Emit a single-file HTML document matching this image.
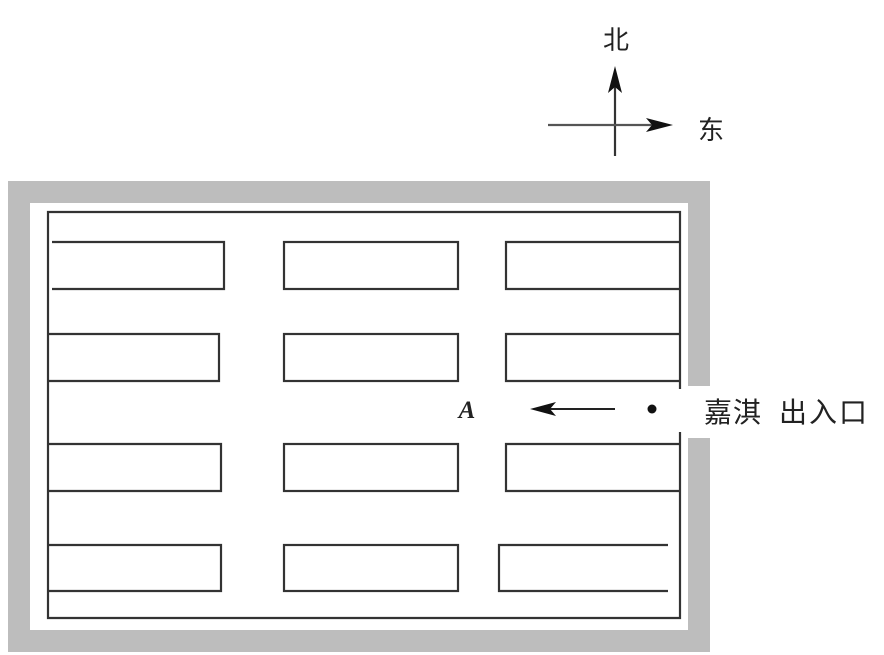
<!DOCTYPE html>
<html><head><meta charset="utf-8"><style>
html,body{margin:0;padding:0;background:#fff;}
svg{display:block;}
</style></head><body>
<svg width="884" height="655" viewBox="0 0 884 655" xmlns="http://www.w3.org/2000/svg">
<path d="M699,387 V192 H19 V641 H699 V437" fill="none" stroke="#bdbdbd" stroke-width="22"/>
<rect x="688" y="386" width="30" height="52" fill="#fff"/>
<g stroke="#333" stroke-width="2.2" fill="none">
<path d="M680,389 V212 H48 V618 H680 V432"/>
<path d="M52,242 H224 V289 H52"/>
<rect x="284" y="242" width="174" height="47"/>
<path d="M679,242 H506 V289 H679"/>
<path d="M48,334 H219 V381 H48"/>
<rect x="284" y="334" width="174" height="47"/>
<path d="M679,334 H506 V381 H679"/>
<path d="M48,444 H221 V491 H48"/>
<rect x="284" y="444" width="174" height="47"/>
<path d="M679,444 H506 V491 H679"/>
<path d="M48,545 H221 V591 H48"/>
<rect x="284" y="545" width="174" height="46"/>
<path d="M668,545 H499 V591 H668"/>
</g>
<line x1="615" y1="80" x2="615" y2="156" stroke="#333" stroke-width="2.2"/>
<polygon points="615,66 608,93 615,87 622,93" fill="#111"/>
<line x1="548" y1="125" x2="660" y2="125" stroke="#555" stroke-width="2.2"/>
<polygon points="673,125 646,118 652,125 646,132" fill="#111"/>
<text x="616" y="49" text-anchor="middle" style="font-family:'Liberation Sans','Noto Sans CJK SC',sans-serif;font-size:26px;fill:#222">北</text>
<text x="711" y="139" text-anchor="middle" style="font-family:'Liberation Sans','Noto Sans CJK SC',sans-serif;font-size:26px;fill:#222">东</text>
<text x="467" y="418" text-anchor="middle" style="font-family:'Liberation Serif',serif;font-style:italic;font-weight:bold;font-size:25px;fill:#222">A</text>
<line x1="545" y1="409" x2="615" y2="409" stroke="#222" stroke-width="2"/>
<polygon points="530,409 556,402 550,409 556,416" fill="#111"/>
<circle cx="652" cy="409" r="4.5" fill="#111"/>
<text x="704" y="422" style="font-family:'Liberation Sans','Noto Sans CJK SC',sans-serif;font-size:28px;letter-spacing:1px;fill:#222">嘉淇</text>
<text x="779" y="422" style="font-family:'Liberation Sans','Noto Sans CJK SC',sans-serif;font-size:28px;letter-spacing:2px;fill:#222">出入口</text>
</svg>
</body></html>
